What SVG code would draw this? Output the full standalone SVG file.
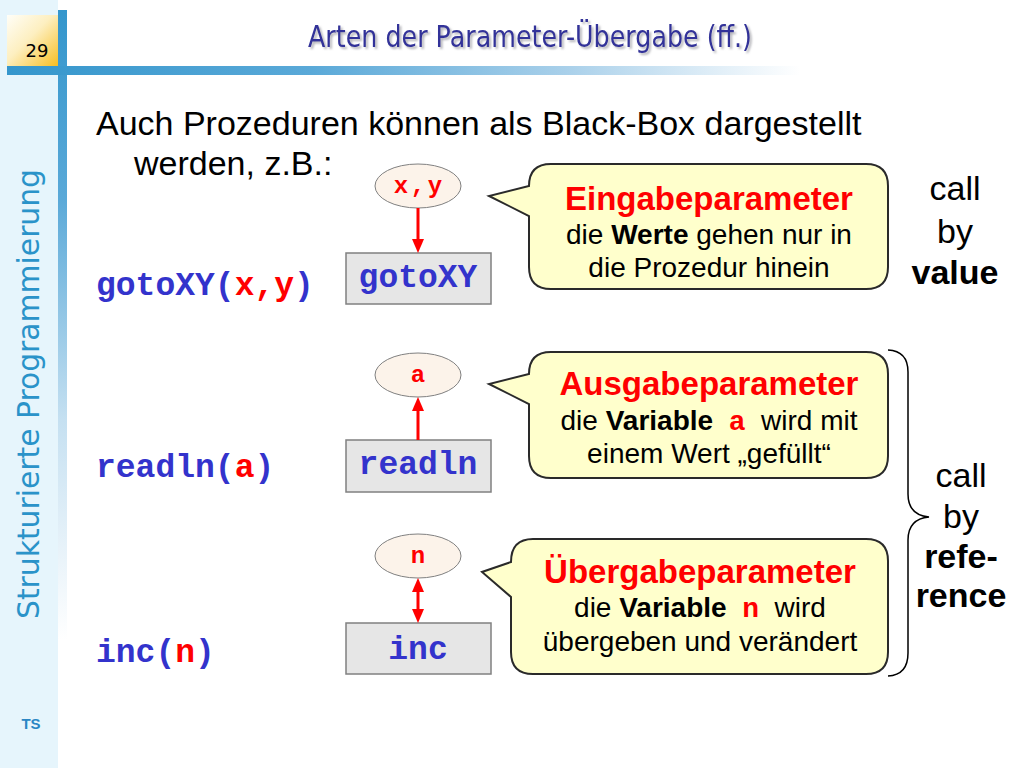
<svg xmlns="http://www.w3.org/2000/svg" width="1024" height="768" viewBox="0 0 1024 768">
  <defs>
    <linearGradient id="hbar" x1="7" y1="0" x2="1024" y2="0" gradientUnits="userSpaceOnUse">
      <stop offset="0" stop-color="#3496cc"/>
      <stop offset="0.3" stop-color="#5aa9d8"/>
      <stop offset="0.55" stop-color="#a9d0ea"/>
      <stop offset="0.78" stop-color="#ffffff"/>
    </linearGradient>
    <linearGradient id="vbar" x1="0" y1="10" x2="0" y2="640" gradientUnits="userSpaceOnUse">
      <stop offset="0" stop-color="#3496cc"/>
      <stop offset="0.3" stop-color="#5aa9d8"/>
      <stop offset="0.65" stop-color="#c5e0f1"/>
      <stop offset="1" stop-color="#ffffff"/>
    </linearGradient>
    <linearGradient id="numbox" x1="0" y1="0" x2="1" y2="1">
      <stop offset="0" stop-color="#fffef8"/>
      <stop offset="0.45" stop-color="#fdefc0"/>
      <stop offset="1" stop-color="#f7be22"/>
    </linearGradient>
    <filter id="shadow" x="-5%" y="-30%" width="110%" height="160%">
      <feDropShadow dx="2" dy="2" stdDeviation="1" flood-color="#808088" flood-opacity="0.6"/>
    </filter>
    <marker id="ah" markerUnits="userSpaceOnUse" markerWidth="14" markerHeight="12" refX="4" refY="6" orient="auto-start-reverse">
      <path d="M0,0 L14,6 L0,12 Z" fill="#ff0000"/>
    </marker>
    <style>
      .sans { font-family: "Liberation Sans", Arial, sans-serif; }
      .tah { font-family: "DejaVu Sans", Verdana, sans-serif; }
      .code { font-family: "Liberation Mono", "Courier New", monospace; font-weight: bold; }
      .blue { fill: #3333cc; }
      .red { fill: #ff0000; }
      .box { fill: #e6e6e6; stroke: #808080; stroke-width: 1.5; }
      .ell { fill: #fcf3ea; stroke: #808080; stroke-width: 1; }
      .callout { fill: #ffffcc; stroke: #2a2a2a; stroke-width: 2; }
      .head { font-family: "Liberation Sans", Arial, sans-serif; font-weight: bold; font-size: 33px; fill: #ff0000; }
      .body { font-family: "Liberation Sans", Arial, sans-serif; font-size: 28px; fill: #000000; }
      .lbl { font-family: "Liberation Sans", Arial, sans-serif; font-size: 34px; fill: #000000; }
      .conn { stroke: #ff0000; stroke-width: 3; fill: none; }
    </style>
  </defs>

  <!-- slide frame -->
  <rect x="0" y="0" width="1024" height="768" fill="#ffffff"/>
  <rect x="0" y="0" width="58" height="768" fill="#e6f5fc"/>
  <rect x="58" y="10" width="9" height="640" fill="url(#vbar)"/>
  <rect x="7" y="66" width="1017" height="9" fill="url(#hbar)"/>
  <rect x="7" y="15" width="51" height="51" fill="url(#numbox)"/>
  <text x="37" y="57" class="tah" font-size="18" text-anchor="middle" fill="#000000">29</text>

  <text x="308" y="47" class="tah" font-size="30" fill="#333399" textLength="444" lengthAdjust="spacingAndGlyphs" filter="url(#shadow)">Arten der Parameter-Übergabe (ff.)</text>

  <text transform="translate(39,394) rotate(-90)" class="tah" font-size="30" fill="#2a93c9" text-anchor="middle" textLength="450" lengthAdjust="spacingAndGlyphs">Strukturierte Programmierung</text>
  <text x="31" y="729" class="sans" font-size="15" font-weight="bold" fill="#2a86c4" text-anchor="middle">TS</text>

  <!-- intro text -->
  <text x="96" y="135" class="sans" font-size="34" fill="#000000">Auch Prozeduren können als Black-Box dargestellt</text>
  <text x="134" y="175" class="sans" font-size="34" fill="#000000">werden, z.B.:</text>

  <!-- code labels -->
  <g id="code-gotoxy">
    <text x="96" y="295" class="code blue" font-size="33">gotoXY(<tspan class="red">x,y</tspan>)</text>
  </g>
  <g id="code-readln">
    <text x="96" y="477" class="code blue" font-size="33">readln(<tspan class="red">a</tspan>)</text>
  </g>
  <g id="code-inc">
    <text x="96" y="662" class="code blue" font-size="33">inc(<tspan class="red">n</tspan>)</text>
  </g>

  <!-- parameter ellipses -->
  <g id="param-xy">
    <ellipse cx="418" cy="186" rx="43" ry="22" class="ell"/>
    <text x="401 418 435" y="193" class="code red" font-size="24" text-anchor="middle">x,y</text>
  </g>
  <g id="param-a">
    <ellipse cx="418" cy="375" rx="43" ry="22" class="ell"/>
    <text x="418" y="382" class="code red" font-size="24" text-anchor="middle">a</text>
  </g>
  <g id="param-n">
    <ellipse cx="418" cy="556" rx="43" ry="22" class="ell"/>
    <text x="418" y="563" class="code red" font-size="24" text-anchor="middle">n</text>
  </g>

  <!-- procedure boxes -->
  <g id="proc-gotoxy">
    <rect x="346" y="253" width="145" height="51" class="box"/>
    <text x="418" y="287" class="code blue" font-size="33" text-anchor="middle">gotoXY</text>
  </g>
  <g id="proc-readln">
    <rect x="346" y="440" width="145" height="52" class="box"/>
    <text x="418" y="474" class="code blue" font-size="33" text-anchor="middle">readln</text>
  </g>
  <g id="proc-inc">
    <rect x="346" y="623" width="145" height="51" class="box"/>
    <text x="418" y="659" class="code blue" font-size="33" text-anchor="middle">inc</text>
  </g>

  <!-- connectors -->
  <g id="connectors">
    <line x1="418" y1="208" x2="418" y2="243" class="conn" marker-end="url(#ah)"/>
    <line x1="418" y1="440" x2="418" y2="407" class="conn" marker-end="url(#ah)"/>
    <line x1="418" y1="588" x2="418" y2="613" class="conn" marker-start="url(#ah)" marker-end="url(#ah)"/>
  </g>

  <!-- callouts -->
  <g id="callout-eingabe">
    <path class="callout" d="M551,164 H866 Q888,164 888,186 V267 Q888,289 866,289 H551 Q529,289 529,267 V216 L489,196 L529,186 Q529,164 551,164 Z"/>
    <text x="709" y="210" class="head" text-anchor="middle">Eingabeparameter</text>
    <text x="709" y="244" class="body" text-anchor="middle">die <tspan font-weight="bold">Werte</tspan> gehen nur in</text>
    <text x="709" y="277" class="body" text-anchor="middle">die Prozedur hinein</text>
  </g>
  <g id="callout-ausgabe">
    <path class="callout" d="M551,352 H866 Q888,352 888,374 V456 Q888,478 866,478 H551 Q529,478 529,456 V404 L489,384 L529,374 Q529,352 551,352 Z"/>
    <text x="709" y="395" class="head" text-anchor="middle">Ausgabeparameter</text>
    <text x="709" y="430" class="body" text-anchor="middle">die <tspan font-weight="bold">Variable</tspan>&#160;&#160;<tspan class="code red">a</tspan>&#160;&#160;wird mit</text>
    <text x="709" y="463" class="body" text-anchor="middle">einem Wert „gefüllt“</text>
  </g>
  <g id="callout-uebergabe">
    <path class="callout" d="M533,539 H866 Q888,539 888,561 V652 Q888,674 866,674 H533 Q511,674 511,652 V597 L482,572 L511,562 Q511,539 533,539 Z"/>
    <text x="700" y="583" class="head" text-anchor="middle">Übergabeparameter</text>
    <text x="700" y="617" class="body" text-anchor="middle">die <tspan font-weight="bold">Variable</tspan>&#160;&#160;<tspan class="code red">n</tspan>&#160;&#160;wird</text>
    <text x="700" y="651" class="body" text-anchor="middle">übergeben und verändert</text>
  </g>

  <!-- call by value -->
  <g id="label-value">
    <text x="955" y="200" class="lbl" text-anchor="middle">call</text>
    <text x="955" y="243" class="lbl" text-anchor="middle">by</text>
    <text x="955" y="284" class="lbl" text-anchor="middle" font-weight="bold">value</text>
  </g>

  <!-- brace + call by reference -->
  <g id="brace-reference">
    <path d="M888,350 Q908,351 908,372 V494 Q908,515 929,517 Q908,519 908,540 V653 Q908,675 888,676" fill="none" stroke="#000000" stroke-width="1.5"/>
  </g>
  <g id="label-reference">
    <text x="961" y="487" class="lbl" text-anchor="middle">call</text>
    <text x="961" y="528" class="lbl" text-anchor="middle">by</text>
    <text x="961" y="568" class="lbl" text-anchor="middle" font-weight="bold">refe-</text>
    <text x="961" y="607" class="lbl" text-anchor="middle" font-weight="bold">rence</text>
  </g>
</svg>
